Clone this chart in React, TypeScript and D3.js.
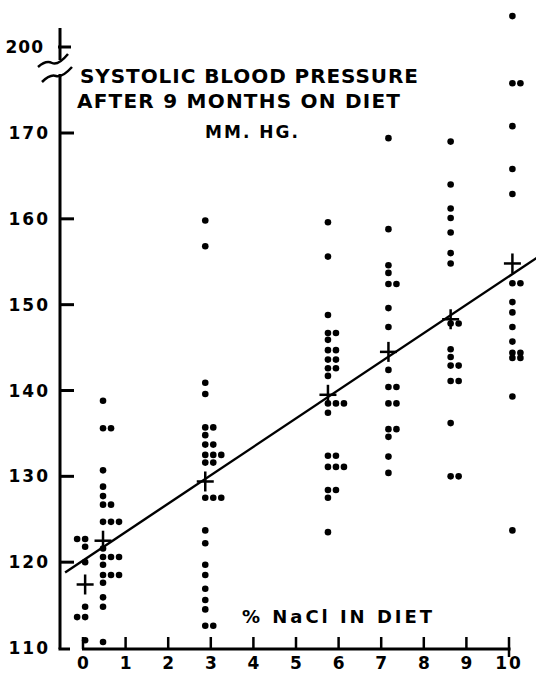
import React from "react";
import * as d3 from "d3";

// ---- data ----
const xTicks = [0, 1, 2, 3, 4, 5, 6, 7, 8, 9, 10];
const yTicks = [110, 120, 130, 140, 150, 160, 170];
const yTickBreak = [200];

const groupNaCl = [0.05, 0.47, 2.87, 5.75, 7.17, 8.63, 10.08];
const groupMeans = [117.4, 122.5, 129.4, 139.5, 144.5, 148.3, 154.8];

const groupA = [122.7, 122.7, 121.8, 120.0, 114.8, 113.6, 113.6, 110.9];
const groupB = [138.8, 135.6, 135.6, 130.7, 128.8, 127.7, 126.7, 126.7, 124.7, 124.7, 124.7, 121.6, 120.6, 120.6, 120.6, 119.7, 118.5, 118.5, 118.5, 117.6, 115.9, 114.8, 110.7];
const groupC = [159.8, 156.8, 140.9, 139.6, 135.7, 135.7, 134.8, 133.7, 133.7, 132.5, 132.5, 132.5, 131.6, 131.6, 127.5, 127.5, 127.5, 123.7, 122.2, 119.7, 118.5, 116.9, 115.6, 114.5, 112.6, 112.6];
const groupD = [159.6, 155.6, 148.8, 146.7, 146.7, 145.9, 144.7, 144.7, 143.6, 143.6, 142.6, 142.6, 141.7, 138.5, 138.5, 138.5, 137.4, 132.4, 132.4, 131.1, 131.1, 131.1, 128.4, 128.4, 127.5, 123.5];
const groupE = [169.4, 158.8, 154.6, 153.7, 152.4, 152.4, 149.6, 147.4, 142.4, 140.4, 140.4, 138.5, 138.5, 135.5, 135.5, 134.6, 132.3, 130.4];
const groupF = [169.0, 164.0, 161.2, 160.1, 158.4, 156.0, 154.8, 147.8, 147.8, 144.8, 143.9, 142.9, 142.9, 141.1, 141.1, 136.2, 130.0, 130.0];
const groupG = [203.6, 175.8, 175.8, 170.8, 165.8, 162.9, 152.5, 152.5, 150.3, 149.1, 147.4, 145.7, 144.4, 144.4, 143.8, 143.8, 139.3, 123.7];
const groups = [groupA, groupB, groupC, groupD, groupE, groupF, groupG];

const regIntercept = 120.2;
const regSlope = 3.31;
const regRange = [-0.42, 10.7];

const titleLines = ["SYSTOLIC BLOOD PRESSURE", "AFTER 9 MONTHS ON DIET", "MM. HG."];
const xTitle = "% NaCl IN DIET";

// ---- layout ----
const W = 536, H = 681;
const FONT = "'DejaVu Sans', sans-serif";
const x = d3.scaleLinear().domain([0, 10]).range([83, 509]);
const yLow = d3.scaleLinear().domain([110, 170]).range([648, 133]);
const yHigh = d3.scaleLinear().domain([200, 210]).range([47, 47 - (648 - 133) / 6]);
const y = (v: number) => (v >= 190 ? yHigh(v) : yLow(v));
const AX = 60;

export default function App() {
  const dots: { cx: number; cy: number }[] = [];
  groups.forEach((vals, gi) => {
    const seen = new Map<number, number>();
    const dir = gi === 0 ? -1 : 1;
    vals.forEach((v) => {
      const k = seen.get(v) ?? 0;
      seen.set(v, k + 1);
      dots.push({ cx: x(groupNaCl[gi]) + dir * k * 8, cy: y(v) });
    });
  });

  const line = d3
    .line<number>()
    .x((d) => x(d))
    .y((d) => yLow(regIntercept + regSlope * d));

  const stroke = "#000";
  return (
    <svg
      width={W}
      height={H}
      style={{ position: "absolute", left: 0, top: 0, background: "#fff" }}
      fontFamily={FONT}
    >
      {/* y axis */}
      <line x1={AX} x2={AX} y1={28} y2={60} stroke={stroke} strokeWidth={3} />
      <line x1={AX} x2={AX} y1={74} y2={649} stroke={stroke} strokeWidth={3} />
      <path d="M38,67 Q46,60 52,63 T68,54" fill="none" stroke={stroke} strokeWidth={2.5} />
      <path d="M42,82 Q50,74 56,76 T72,67" fill="none" stroke={stroke} strokeWidth={2.5} />
      <line x1={AX - 1.5} x2={70} y1={649} y2={649} stroke={stroke} strokeWidth={3} />
      {yTicks.slice(1).map((t) => (
        <line key={t} x1={AX} x2={74} y1={yLow(t)} y2={yLow(t)} stroke={stroke} strokeWidth={3} />
      ))}
      {yTickBreak.map((t) => (
        <line key={t} x1={AX - 2} x2={71} y1={yHigh(t)} y2={yHigh(t)} stroke={stroke} strokeWidth={3} />
      ))}
      {yTicks.map((t) => (
        <text key={t} x={50} y={yLow(t)} dy="0.36em" textAnchor="end" fontSize={17} fontWeight="bold" letterSpacing={2}>
          {t}
        </text>
      ))}
      {yTickBreak.map((t) => (
        <text key={t} x={44} y={yHigh(t)} dy="0.36em" textAnchor="end" fontSize={17} fontWeight="bold" letterSpacing={1}>
          {t}
        </text>
      ))}

      {/* x axis */}
      <line x1={x(0) - 1} x2={x(10) + 1.5} y1={649} y2={649} stroke={stroke} strokeWidth={3} />
      {xTicks.map((t) => (
        <line key={t} x1={x(t)} x2={x(t)} y1={637} y2={t === 10 ? 657 : 649} stroke={stroke} strokeWidth={2.5} />
      ))}
      {xTicks.map((t) => (
        <text key={t} x={x(t)} y={669} textAnchor="middle" fontSize={17} fontWeight="bold" letterSpacing={t === 10 ? 2 : 0}>
          {t}
        </text>
      ))}

      {/* regression line */}
      <path d={line(regRange) || ""} fill="none" stroke={stroke} strokeWidth={2.4} />

      {/* dots */}
      {dots.map((d, i) => (
        <circle key={i} cx={d.cx} cy={d.cy} r={3.3} fill={stroke} />
      ))}

      {/* group means */}
      {groupMeans.map((m, i) => (
        <g key={i} stroke={stroke} strokeWidth={2.5}>
          <line x1={x(groupNaCl[i]) - 8.5} x2={x(groupNaCl[i]) + 8.5} y1={yLow(m)} y2={yLow(m)} />
          <line x1={x(groupNaCl[i])} x2={x(groupNaCl[i])} y1={yLow(m) - 10} y2={yLow(m) + 10} />
        </g>
      ))}

      {/* titles */}
      <text x={80} y={83} fontSize={20} fontWeight="bold" textLength={338} lengthAdjust="spacing">
        {titleLines[0]}
      </text>
      <text x={77} y={108} fontSize={20} fontWeight="bold" textLength={323} lengthAdjust="spacing">
        {titleLines[1]}
      </text>
      <text x={205} y={138} fontSize={17} fontWeight="bold" textLength={93} lengthAdjust="spacing">
        {titleLines[2]}
      </text>
      <text x={242} y={623} fontSize={18} fontWeight="bold" textLength={190} lengthAdjust="spacing">
        {xTitle}
      </text>
    </svg>
  );
}
